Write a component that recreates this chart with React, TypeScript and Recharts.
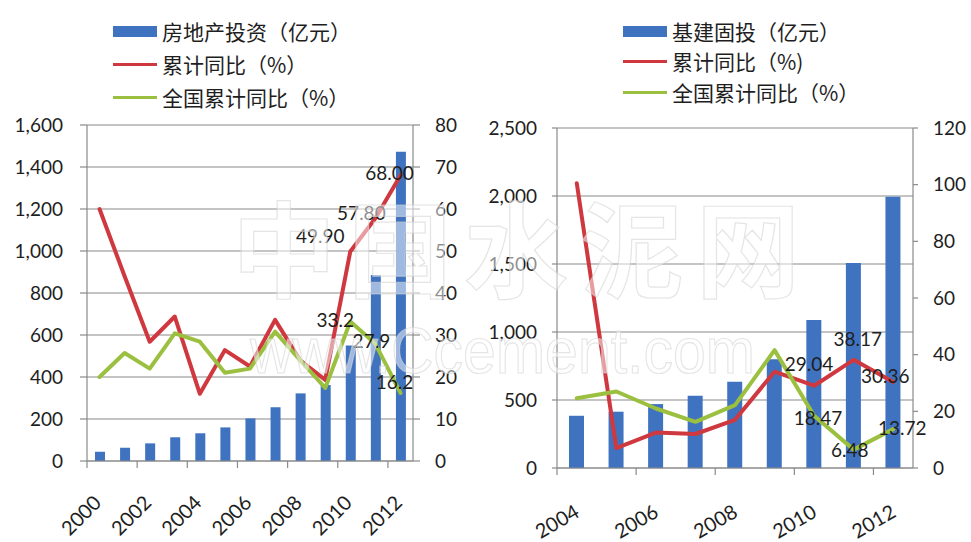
import React from 'react';
import { ComposedChart, Bar, Line, XAxis, YAxis, CartesianGrid, LabelList } from 'recharts';

// ---------- Left chart data ----------
const leftYears = ['2000', '2001', '2002', '2003', '2004', '2005', '2006', '2007', '2008', '2009', '2010', '2011', '2012'];
const leftInvest = [44, 63, 84, 113, 132, 160, 203, 256, 322, 362, 550, 886, 1473];
const leftCum = [60, 44, 28.4, 34.4, 16, 26.4, 22.5, 33.6, 24, 19.3, 49.9, 57.8, 68.0];
const leftNational = [20, 25.7, 22, 30.4, 28.4, 21, 22, 30.8, 24, 17.4, 33.2, 27.9, 16.2];
const leftCumLabels = ['', '', '', '', '', '', '', '', '', '', '49.90', '57.80', '68.00'];
const leftNationalLabels = ['', '', '', '', '', '', '', '', '', '', '33.2', '27.9', '16.2'];
const leftLeftTicks = [0, 200, 400, 600, 800, 1000, 1200, 1400, 1600];
const leftRightTicks = [0, 10, 20, 30, 40, 50, 60, 70, 80];
const leftNames = ['房地产投资（亿元）', '累计同比（%）', '全国累计同比（%）'];

// ---------- Right chart data ----------
const rightYears = ['2004', '2005', '2006', '2007', '2008', '2009', '2010', '2011', '2012'];
const rightInvest = [384, 414, 470, 531, 634, 800, 1088, 1507, 1994];
const rightCum = [100.5, 7, 12.5, 12, 17, 34, 29.04, 38.17, 30.36];
const rightNational = [24.6, 27, 21, 16.3, 22.2, 41.6, 18.47, 6.48, 13.72];
const rightCumLabels = ['', '', '', '', '', '', '29.04', '38.17', '30.36'];
const rightNationalLabels = ['', '', '', '', '', '', '18.47', '6.48', '13.72'];
const rightLeftTicks = [0, 500, 1000, 1500, 2000, 2500];
const rightRightTicks = [0, 20, 40, 60, 80, 100, 120];
const rightNames = ['基建固投（亿元）', '累计同比（%)', '全国累计同比（%）'];

// ---------- styles ----------
const BLUE = '#3F73C0';
const RED = '#D0383F';
const GREEN = '#9BC040';
const GRID = '#8a8a8a';
const TEXT = '#1e1e1e';
const NUM_FONT = 'Lato, "Open Sans", sans-serif';
const CJK_FONT = '"Noto Sans CJK SC", "Noto Sans", sans-serif';

// label offsets (style config, per point index)
const leftCumOff: Record<number, [number, number]> = { 10: [-30, -16], 11: [-14, -6], 12: [-11, -3] };
const leftNatOff: Record<number, [number, number]> = { 10: [-15, -2], 11: [-4, -3], 12: [-6, -11] };
const rightCumOff: Record<number, [number, number]> = { 6: [-5, -22], 7: [4, -21], 8: [-8, -6] };
const rightNatOff: Record<number, [number, number]> = { 6: [4, 2], 7: [-4, 0], 8: [9, -2] };

const fmt = (v: number) => v.toLocaleString('en-US');

const leftData = leftYears.map((year, i) => ({
  year,
  invest: leftInvest[i],
  cum: leftCum[i],
  national: leftNational[i],
  cumLabel: leftCumLabels[i],
  natLabel: leftNationalLabels[i],
}));

const rightData = rightYears.map((year, i) => ({
  year,
  invest: rightInvest[i],
  cum: rightCum[i],
  national: rightNational[i],
  cumLabel: rightCumLabels[i],
  natLabel: rightNationalLabels[i],
}));

function makeXTick(years: string[], plotW: number, angle: number, dx: number, dy: number) {
  const n = years.length;
  const band = plotW / n;
  return (props: any) => {
    const { x, y, payload } = props;
    const i = years.indexOf(String(payload.value));
    if (i % 2 !== 0) return <g />;
    const ax = x + dx;
    const ay = y + dy;
    return (
      <g>
        <line x1={x - band / 2} x2={x - band / 2} y1={y} y2={y + 7} stroke={GRID} strokeWidth={1.2} />
        <text
          x={ax}
          y={ay}
          textAnchor="end"
          fill={TEXT}
          fontSize={20}
          fontFamily={NUM_FONT}
          transform={`rotate(${angle}, ${ax}, ${ay})`}
        >
          {payload.value}
        </text>
      </g>
    );
  };
}

function makeLabel(labels: string[], offsets: Record<number, [number, number]>) {
  return (props: any) => {
    const { x, y, value } = props;
    if (!value) return null;
    const i = labels.indexOf(String(value));
    const off = offsets[i] || [0, 0];
    return (
      <text
        x={x + off[0]}
        y={y + off[1]}
        textAnchor="middle"
        dominantBaseline="central"
        fill={TEXT}
        fontSize={19}
        fontFamily={NUM_FONT}
      >
        {value}
      </text>
    );
  };
}

function LegendBlock({ names, left, textLeft, rows }: { names: string[]; left: number; textLeft: number; rows: number[] }) {
  const colors = [BLUE, RED, GREEN];
  return (
    <>
      {names.map((name, i) => (
        <div key={name} style={{ position: 'absolute', left: 0, top: rows[i] - 15, height: 30, width: 400 }}>
          <div
            style={{
              position: 'absolute',
              left,
              top: i === 0 ? 10 : 13.5,
              width: 44,
              height: i === 0 ? 11 : 3,
              background: colors[i],
            }}
          />
          <div
            style={{
              position: 'absolute',
              left: textLeft,
              top: 0,
              lineHeight: '30px',
              fontSize: 21,
              fontFamily: CJK_FONT,
              color: TEXT,
              whiteSpace: 'nowrap',
            }}
          >
            {name}
          </div>
        </div>
      ))}
    </>
  );
}

const axisLine = { stroke: GRID, strokeWidth: 1.2 };
const tickStyle = { fill: TEXT, fontSize: 19, fontFamily: NUM_FONT };

export default function App() {
  return (
    <div style={{ position: 'absolute', left: 0, top: 0, width: 971, height: 542, background: '#fff', overflow: 'hidden' }}>
      {/* Left chart */}
      <div style={{ position: 'absolute', left: 0, top: 0, width: 485, height: 542 }}>
        <ComposedChart width={485} height={542} data={leftData} margin={{ top: 125, right: 0, bottom: 0, left: 0 }}>
          <CartesianGrid yAxisId="l" vertical={false} stroke={GRID} strokeWidth={1.2} />
          <XAxis
            dataKey="year"
            height={81}
            interval={0}
            tickLine={false}
            tickSize={0}
            tickMargin={0}
            axisLine={axisLine}
            tick={makeXTick(leftYears, 326, -45, 3, 43)}
          />
          <YAxis
            yAxisId="l"
            orientation="left"
            width={87}
            domain={[0, 1600]}
            ticks={leftLeftTicks}
            interval={0}
            tickSize={7}
            tickMargin={17}
            tickLine={axisLine}
            axisLine={axisLine}
            tick={tickStyle}
            tickFormatter={fmt}
          />
          <YAxis
            yAxisId="r"
            orientation="right"
            width={72}
            domain={[0, 80]}
            ticks={leftRightTicks}
            interval={0}
            tickSize={7}
            tickMargin={15}
            tickLine={axisLine}
            axisLine={axisLine}
            tick={tickStyle}
          />
          <Bar yAxisId="l" dataKey="invest" fill={BLUE} barSize={10} isAnimationActive={false} />
          <Line
            yAxisId="r"
            type="linear"
            dataKey="cum"
            stroke={RED}
            strokeWidth={4}
            strokeLinejoin="round"
            strokeLinecap="round"
            dot={false}
            isAnimationActive={false}
          >
            <LabelList dataKey="cumLabel" content={makeLabel(leftCumLabels, leftCumOff)} />
          </Line>
          <Line
            yAxisId="r"
            type="linear"
            dataKey="national"
            stroke={GREEN}
            strokeWidth={4}
            strokeLinejoin="round"
            strokeLinecap="round"
            dot={false}
            isAnimationActive={false}
          >
            <LabelList dataKey="natLabel" content={makeLabel(leftNationalLabels, leftNatOff)} />
          </Line>
        </ComposedChart>
        <LegendBlock names={leftNames} left={113} textLeft={162} rows={[31, 64, 97]} />
      </div>

      {/* Right chart */}
      <div style={{ position: 'absolute', left: 485, top: 0, width: 486, height: 542 }}>
        <ComposedChart width={486} height={542} data={rightData} margin={{ top: 128, right: 0, bottom: 0, left: 0 }}>
          <CartesianGrid yAxisId="l" vertical={false} stroke={GRID} strokeWidth={1.2} />
          <XAxis
            dataKey="year"
            height={74}
            interval={0}
            tickLine={false}
            tickSize={0}
            tickMargin={0}
            axisLine={axisLine}
            tick={makeXTick(rightYears, 356, -30, 4, 48)}
          />
          <YAxis
            yAxisId="l"
            orientation="left"
            width={72}
            domain={[0, 2500]}
            ticks={rightLeftTicks}
            interval={0}
            tickSize={5}
            tickMargin={15}
            tickLine={axisLine}
            axisLine={axisLine}
            tick={tickStyle}
            tickFormatter={fmt}
          />
          <YAxis
            yAxisId="r"
            orientation="right"
            width={58}
            domain={[0, 120]}
            ticks={rightRightTicks}
            interval={0}
            tickSize={5}
            tickMargin={15}
            tickLine={axisLine}
            axisLine={axisLine}
            tick={tickStyle}
          />
          <Bar yAxisId="l" dataKey="invest" fill={BLUE} barSize={15} isAnimationActive={false} />
          <Line
            yAxisId="r"
            type="linear"
            dataKey="cum"
            stroke={RED}
            strokeWidth={4}
            strokeLinejoin="round"
            strokeLinecap="round"
            dot={false}
            isAnimationActive={false}
          >
            <LabelList dataKey="cumLabel" content={makeLabel(rightCumLabels, rightCumOff)} />
          </Line>
          <Line
            yAxisId="r"
            type="linear"
            dataKey="national"
            stroke={GREEN}
            strokeWidth={4}
            strokeLinejoin="round"
            strokeLinecap="round"
            dot={false}
            isAnimationActive={false}
          >
            <LabelList dataKey="natLabel" content={makeLabel(rightNationalLabels, rightNatOff)} />
          </Line>
        </ComposedChart>
        <LegendBlock names={rightNames} left={138} textLeft={187} rows={[31, 61, 92]} />
      </div>

      {/* Watermark */}
      <svg
        width={971}
        height={542}
        style={{ position: 'absolute', left: 0, top: 0, pointerEvents: 'none' }}
      >
        <text
          x={232}
          y={290}
          fontSize={104}
          fontFamily={CJK_FONT}
          fontWeight={700}
          letterSpacing={12}
          fill="#ffffff"
          fillOpacity={0.5}
          stroke="#d4d4d4"
          strokeOpacity={0.6}
          strokeWidth={1.2}
        >
          中国水泥网
        </text>
        <text
          x={250}
          y={373}
          fontSize={64}
          fontFamily='"Liberation Sans", sans-serif'
          textLength={505}
          lengthAdjust="spacingAndGlyphs"
          fill="#ffffff"
          fillOpacity={0.5}
          stroke="#d4d4d4"
          strokeOpacity={0.6}
          strokeWidth={1.2}
        >
          www.Ccement.com
        </text>
      </svg>
    </div>
  );
}
